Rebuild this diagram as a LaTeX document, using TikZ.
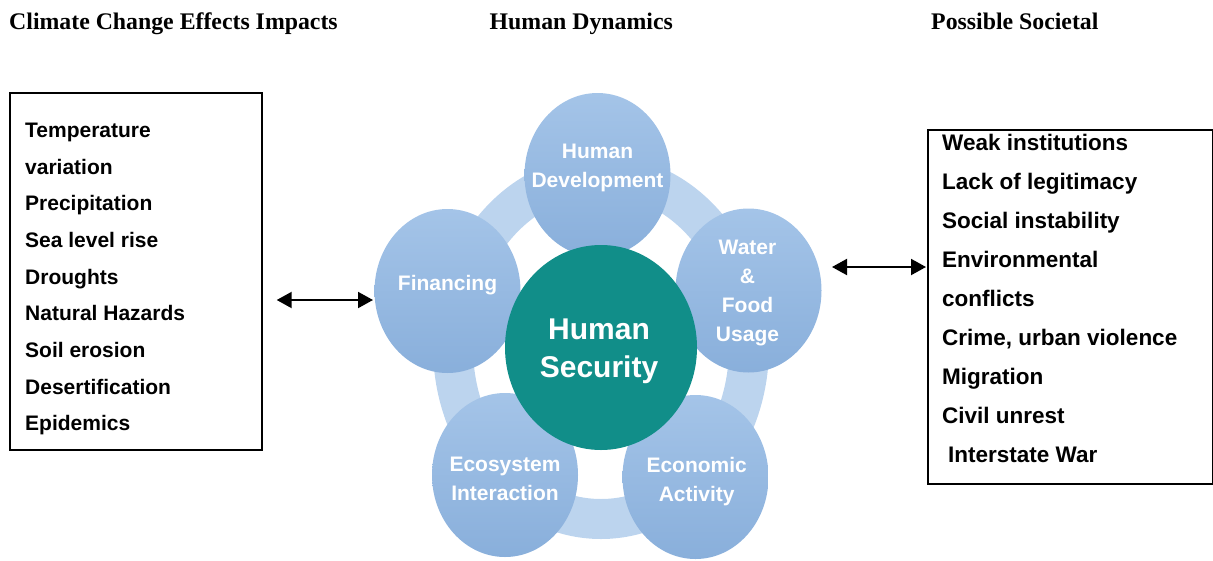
\documentclass[tikz,border=0pt]{standalone}
\usepackage{fontspec}
\setmainfont{Liberation Serif}
\newfontfamily\arialfont{Liberation Sans}
\usetikzlibrary{shapes.geometric,arrows.meta}

\definecolor{petaltop}{HTML}{A4C4E8}
\definecolor{petalbot}{HTML}{89AFDB}
\definecolor{ringblue}{HTML}{BCD4EE}
\definecolor{hsteal}{HTML}{118E89}

\begin{document}
\begin{tikzpicture}[x=1pt,y=-1pt,
  heading/.style={anchor=base west, inner sep=0pt,
    font=\fontsize{23.8}{28}\selectfont\bfseries},
  listbox/.style={draw, line width=1.7pt, inner sep=0pt, anchor=north west},
  effitem/.style={anchor=base west, inner sep=0pt,
    font=\arialfont\bfseries\fontsize{21}{25}\selectfont},
  outitem/.style={anchor=base west, inner sep=0pt,
    font=\arialfont\bfseries\fontsize{22.5}{26}\selectfont},
  link/.style={line width=2pt,
    {Triangle[length=15pt,width=16pt]}-{Triangle[length=15pt,width=16pt]}},
  petal/.style={ellipse, minimum width=146pt, minimum height=164pt,
    inner sep=0pt, top color=petaltop, bottom color=petalbot, draw=none},
  core/.style={ellipse, minimum width=192pt, minimum height=205pt,
    inner sep=0pt, fill=hsteal, draw=none},
  petaltext/.style={font=\arialfont\bfseries\fontsize{21}{29}\selectfont,
    text=white, align=center, inner sep=0pt},
  coretext/.style={font=\arialfont\bfseries\fontsize{30}{38}\selectfont,
    text=white, align=center, inner sep=0pt}
]
\useasboundingbox (0,0) rectangle (1213,560);

% column headings
\node[heading] (h-effects) at (9,29.5) {Climate Change Effects Impacts};
\node[heading] (h-dyn) at (489.5,29.5) {Human Dynamics};
\node[heading] (h-soc) at (931,29.5) {Possible Societal};

% left list: climate change effects
\node[listbox, minimum width=252pt, minimum height=357pt] (effects) at (9,92) {};
\foreach \t [count=\i from 0] in {Temperature, variation, Precipitation,
    Sea level rise, Droughts, Natural Hazards, Soil erosion,
    Desertification, Epidemics}
  \node[effitem] (eff\i) at (25,137.3+36.7*\i) {\t};

% right list: possible societal impacts
\node[listbox, minimum width=285pt, minimum height=354pt] (outcomes) at (927,129) {};
\foreach \t [count=\i from 0] in {Weak institutions, Lack of legitimacy,
    Social instability, Environmental, conflicts, {Crime, urban violence},
    Migration, Civil unrest, {\hspace*{6pt}Interstate War}}
  \node[outitem] (out\i) at (942,150.7+39*\i) {\t};

% ring joining the five dimensions
\draw[ringblue, line width=40pt] (601,347) ellipse [x radius=148pt, y radius=172pt];

% five dimensions of human dynamics
\node[petal] (hd) at (597.5,175) {};
\node[petal] (fin) at (447.5,291) {};
\node[petal] (wf) at (748.5,290.5) {};
\node[petal] (eco) at (505,475) {};
\node[petal] (econ) at (695.5,477) {};

% central circle
\node[core] (hs) at (601,347.5) {};

\node[petaltext] (hd-t) at (597.5,167.7) {Human\\Development};
\node[petaltext] (fin-t) at (447.5,284.7) {Financing};
\node[petaltext] (wf-t) at (747.5,293.2) {Water\\\&\\Food\\Usage};
\node[petaltext] (eco-t) at (505,479.2) {Ecosystem\\Interaction};
\node[petaltext] (econ-t) at (696.7,481.5) {Economic\\Activity};
\node[coretext] (hs-t) at (599,351.3) {Human\\Security};

% two-way links
\coordinate (la) at (276.7,300);
\coordinate (lb) at (373,300);
\draw[link] (la) -- (lb);
\coordinate (ra) at (832,267);
\coordinate (rb) at (926,267);
\draw[link] (ra) -- (rb);
\end{tikzpicture}
\end{document}
